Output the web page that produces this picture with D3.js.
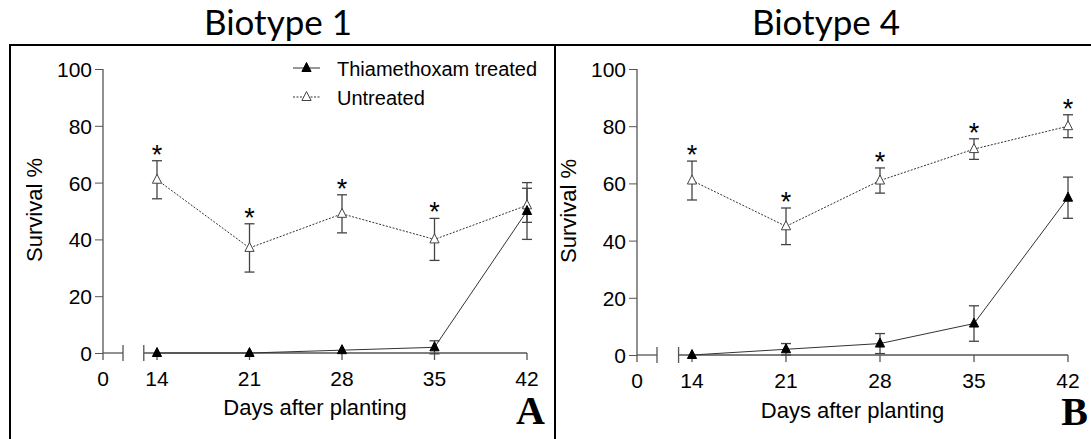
<!DOCTYPE html>
<html>
<head>
<meta charset="utf-8">
<script src="https://cdn.jsdelivr.net/npm/d3@7"></script>
<style>
  body { margin: 0; background: #fff; }
  svg { display: block; }
  text { font-family: "Liberation Sans", Arial, sans-serif; }
</style>
</head>
<body>
<div id="chart"></div>
<script>
// values
const days = [14, 21, 28, 35, 42];
const yTicks = [0, 20, 40, 60, 80, 100];

const b1Treated = [0, 0, 1, 2, 50];
const b1TreatedErr = [0, 0, 0, 2.3, 10];
const b1Untreated = [61, 37, 49, 40, 52];
const b1UntreatedErr = [6.7, 8.5, 6.7, 7.4, 6];
const b1Signif = [true, true, true, true, false];

const b4Treated = [0, 2, 4, 11, 55];
const b4TreatedErr = [0, 2, 3.5, 6.2, 7.2];
const b4Untreated = [61, 45, 61, 72, 80];
const b4UntreatedErr = [6.8, 6.4, 4.4, 3.6, 4];
const b4Signif = [true, true, true, true, true];

const legendLabels = ['Thiamethoxam treated', 'Untreated'];

const width = 1091, height = 439;
const axisColor = '#555';

const svg = d3.select('#chart')
  .append('svg')
  .attr('width', width)
  .attr('height', height);

// outer frame: top rule, left edge and divider
svg.append('line').attr('x1', 9).attr('x2', width).attr('y1', 45).attr('y2', 45)
  .attr('stroke', '#000').attr('stroke-width', 2);
svg.append('line').attr('x1', 10).attr('x2', 10).attr('y1', 45).attr('y2', height)
  .attr('stroke', '#000').attr('stroke-width', 2);
svg.append('line').attr('x1', 555).attr('x2', 555).attr('y1', 45).attr('y2', height)
  .attr('stroke', '#000').attr('stroke-width', 2);

// triangle marker
function tri(g, x, y, filled) {
  g.append('path')
    .attr('d', `M${x},${y - 5.5}L${x + 4.6},${y + 3.5}L${x - 4.6},${y + 3.5}Z`)
    .attr('fill', filled ? '#000' : '#fff')
    .attr('stroke', filled ? '#000' : '#444')
    .attr('stroke-width', 1);
}

function drawPanel(o) {
  let g = svg.append('g');

  let x = d3.scaleLinear().domain([14, 42]).range(o.xRange);
  let y = d3.scaleLinear().domain([0, 100]).range(o.yRange);
  let ox = o.origin;
  let y0 = y(0);

  // title
  svg.append('text')
    .attr('x', o.titleX).attr('y', 35)
    .attr('text-anchor', 'middle')
    .style('font-family', 'Lato, "Open Sans", sans-serif')
    .style('font-size', '35px')
    .text(o.title);

  // y axis
  let yAxis = d3.axisLeft(y).tickValues(yTicks).tickSize(8).tickPadding(3);
  let ya = g.append('g').attr('transform', `translate(${ox},0)`).call(yAxis);
  ya.select('.domain').attr('d', `M0,${y(100)}V${y0}`);
  ya.selectAll('line').attr('stroke', axisColor);
  ya.selectAll('path').attr('stroke', axisColor).attr('stroke-width', 1.3);
  ya.selectAll('text').style('font-size', '21px').attr('fill', '#000')
    .attr('dy', '0.36em');

  // broken x axis: short 0 segment, then 13..42
  let ax = g.append('g').attr('stroke', axisColor).attr('stroke-width', 1.3);
  let segEnd = ox + 20;
  let seg2 = x(13);
  ax.append('line').attr('x1', ox).attr('x2', segEnd).attr('y1', y0).attr('y2', y0);
  ax.append('line').attr('x1', ox).attr('x2', ox).attr('y1', y0).attr('y2', y0 + 7);
  ax.append('line').attr('x1', segEnd).attr('x2', segEnd).attr('y1', y0 - 8).attr('y2', y0 + 8);
  ax.append('line').attr('x1', seg2).attr('x2', x(42)).attr('y1', y0).attr('y2', y0);
  ax.append('line').attr('x1', seg2).attr('x2', seg2).attr('y1', y0 - 8).attr('y2', y0 + 8);
  ax.selectAll(null).data(days).enter().append('line')
    .attr('x1', d => x(d)).attr('x2', d => x(d))
    .attr('y1', y0).attr('y2', y0 + 7);

  let xLabels = [{ v: 0, px: ox }].concat(days.map(d => ({ v: d, px: x(d) })));
  g.selectAll(null).data(xLabels).enter().append('text')
    .attr('x', d => d.px).attr('y', y0 + 33)
    .attr('text-anchor', 'middle')
    .style('font-size', '21px')
    .text(d => d.v);

  // axis titles
  g.append('text')
    .attr('x', (ox + x(42)) / 2).attr('y', o.xTitleY)
    .attr('text-anchor', 'middle')
    .style('font-size', '22px')
    .text('Days after planting');
  g.append('text')
    .attr('transform', `translate(${ox - 61},${(y(100) + y0) / 2 - 1}) rotate(-90)`)
    .attr('text-anchor', 'middle')
    .style('font-size', '22px')
    .text('Survival %');

  // panel letter
  g.append('text')
    .attr('x', o.letterX).attr('y', o.letterY)
    .attr('text-anchor', 'end')
    .style('font-family', '"Liberation Serif", "Times New Roman", serif')
    .style('font-weight', 'bold')
    .style('font-size', '40px')
    .text(o.letter);

  let line = d3.line().x(d => x(d[0])).y(d => y(d[1]));
  let untreated = days.map((d, i) => [d, o.untreated[i]]);
  let treated = days.map((d, i) => [d, o.treated[i]]);

  // error bars
  function errBars(vals, errs) {
    days.forEach((d, i) => {
      if (!errs[i]) return;
      let top = y(vals[i] + errs[i]), bot = y(vals[i] - errs[i]), cx = x(d);
      let eb = g.append('g').attr('stroke', '#444').attr('stroke-width', 1.3);
      eb.append('line').attr('x1', cx).attr('x2', cx).attr('y1', top).attr('y2', bot);
      eb.append('line').attr('x1', cx - 5).attr('x2', cx + 5).attr('y1', top).attr('y2', top);
      eb.append('line').attr('x1', cx - 5).attr('x2', cx + 5).attr('y1', bot).attr('y2', bot);
    });
  }
  errBars(o.untreated, o.untreatedErr);
  errBars(o.treated, o.treatedErr);

  g.append('path').datum(untreated).attr('d', line)
    .attr('fill', 'none').attr('stroke', '#333').attr('stroke-width', 1)
    .attr('stroke-dasharray', '2,1.5');
  g.append('path').datum(treated).attr('d', line)
    .attr('fill', 'none').attr('stroke', '#333').attr('stroke-width', 1);

  untreated.forEach(p => tri(g, x(p[0]), y(p[1]), false));
  treated.forEach(p => tri(g, x(p[0]), y(p[1]), true));

  // significance stars above untreated bars
  days.forEach((d, i) => {
    if (!o.signif[i]) return;
    g.append('text')
      .attr('x', x(d)).attr('y', y(o.untreated[i] + o.untreatedErr[i]) + 3)
      .attr('text-anchor', 'middle')
      .style('font-size', '27px')
      .text('*');
  });
}

drawPanel({
  title: 'Biotype 1', titleX: 278, letter: 'A', letterX: 545, letterY: 424,
  xRange: [157, 527], yRange: [353, 69], origin: 103, xTitleY: 415,
  treated: b1Treated, treatedErr: b1TreatedErr,
  untreated: b1Untreated, untreatedErr: b1UntreatedErr, signif: b1Signif
});

drawPanel({
  title: 'Biotype 4', titleX: 826, letter: 'B', letterX: 1088, letterY: 425,
  xRange: [692, 1068], yRange: [355, 69], origin: 637, xTitleY: 418,
  treated: b4Treated, treatedErr: b4TreatedErr,
  untreated: b4Untreated, untreatedErr: b4UntreatedErr, signif: b4Signif
});

// legend (left panel only)
let lg = svg.append('g');
[68, 97].forEach((ly, i) => {
  lg.append('line').attr('x1', 293).attr('x2', 320).attr('y1', ly).attr('y2', ly)
    .attr('stroke', '#333').attr('stroke-width', 1)
    .attr('stroke-dasharray', i ? '2,1.5' : null);
  tri(lg, 306.5, ly, i === 0);
  lg.append('text').attr('x', 337).attr('y', ly + 7.5)
    .style('font-size', '20px')
    .text(legendLabels[i]);
});
</script>
</body>
</html>
